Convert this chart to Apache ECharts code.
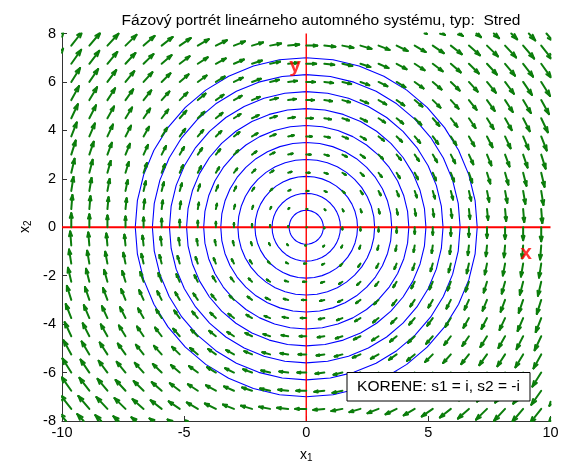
<!DOCTYPE html>
<html>
<head>
<meta charset="utf-8">
<script src="https://cdn.jsdelivr.net/npm/echarts@6/dist/echarts.min.js"></script>
<style>
  html, body { margin: 0; padding: 0; background: #fff; }
  #chart { width: 570px; height: 466px; }
</style>
</head>
<body>
<div id="chart"></div>
<script>
// Linear autonomous system  x' = A x  (center: eigenvalues s1 = i, s2 = -i)
const sysA = [[0, 1], [-1, 0]];

// Quiver grid (nodes outside the axes are clipped at the plot edge)
const gridX = [-10.36, -9.62, -8.88, -8.14, -7.40, -6.66, -5.92, -5.18, -4.44, -3.70,
               -2.96, -2.22, -1.48, -0.74, 0, 0.74, 1.48, 2.22, 2.96, 3.70, 4.44,
               5.18, 5.92, 6.66, 7.40, 8.14, 8.88, 9.62, 10.36];
const gridY = [-8.25, -7.5, -6.75, -6.0, -5.25, -4.5, -3.75, -3.0, -2.25, -1.5, -0.75,
               0, 0.75, 1.5, 2.25, 3.0, 3.75, 4.5, 5.25, 6.0, 6.75, 7.5, 8.25];

// Initial conditions of the plotted trajectories (on the x2 axis)
const startRadii = [0.7, 1.4, 2.1, 2.8, 3.5, 4.2, 4.9, 5.6, 6.3, 7.0];

// Axis ticks
const xTicks = [-10, -5, 0, 5, 10];
const yTicks = [-8, -6, -4, -2, 0, 2, 4, 6, 8];

const titleText = 'Fázový portrét lineárneho automného systému, typ:  Stred';
const rootsText = 'KORENE: s1 = i, s2 = -i';

const QUIVER_SCALE = 0.06;   // data units per unit of |x'|
const STEPS = 40;            // integration steps per revolution

// Vector field on the grid
const fieldData = [];
gridX.forEach(function (gx) {
  gridY.forEach(function (gy) {
    const u = sysA[0][0] * gx + sysA[0][1] * gy;
    const v = sysA[1][0] * gx + sysA[1][1] * gy;
    fieldData.push([gx, gy, u, v]);
  });
});

// Trajectories: exact solution x(t) = e^{At} x0 sampled at fixed steps
function trajectory(x0, y0) {
  const pts = [];
  for (let i = 0; i <= STEPS; i++) {
    const t = 2 * Math.PI * i / STEPS;
    const c = Math.cos(t), s = Math.sin(t);
    // e^{At} for A = [[0,1],[-1,0]] is a clockwise rotation
    pts.push([c * x0 + s * y0, -s * x0 + c * y0]);
  }
  return pts;
}

// Liang–Barsky clip of a pixel segment to the plot rectangle
function clipSeg(p, q, r) {
  let t0 = 0, t1 = 1;
  const dx = q[0] - p[0], dy = q[1] - p[1];
  const P = [-dx, dx, -dy, dy];
  const Q = [p[0] - r.x, r.x + r.width - p[0], p[1] - r.y, r.y + r.height - p[1]];
  for (let i = 0; i < 4; i++) {
    if (P[i] === 0) { if (Q[i] < 0) return null; }
    else {
      const t = Q[i] / P[i];
      if (P[i] < 0) { if (t > t1) return null; if (t > t0) t0 = t; }
      else { if (t < t0) return null; if (t < t1) t1 = t; }
    }
  }
  return [[p[0] + t0 * dx, p[1] + t0 * dy], [p[0] + t1 * dx, p[1] + t1 * dy]];
}

const GREEN = '#0b7d0b';

function renderArrow(params, api) {
  const x = api.value(0), y = api.value(1), u = api.value(2), v = api.value(3);
  const p0 = api.coord([x, y]);
  const p1 = api.coord([x + QUIVER_SCALE * u, y + QUIVER_SCALE * v]);
  const r = params.coordSys;
  const dx = p1[0] - p0[0], dy = p1[1] - p0[1];
  const L = Math.hypot(dx, dy);
  const segs = [];
  if (L < 1) {
    segs.push([p0, [p0[0] + 0.8, p0[1]]]);
  } else {
    segs.push([p0, p1]);
    const ux = dx / L, uy = dy / L;
    const hl = 0.33 * L, hw = 0.33 * 0.33 * L;
    const bx = p1[0] - ux * hl, by = p1[1] - uy * hl;
    segs.push([p1, [bx - uy * hw, by + ux * hw]]);
    segs.push([p1, [bx + uy * hw, by - ux * hw]]);
  }
  const children = [];
  segs.forEach(function (s) {
    const c = clipSeg(s[0], s[1], r);
    if (!c) return;
    children.push({
      type: 'line',
      shape: { x1: c[0][0], y1: c[0][1], x2: c[1][0], y2: c[1][1] },
      style: { stroke: GREEN, lineWidth: 2, lineCap: 'round' }
    });
  });
  return { type: 'group', children: children };
}

const series = [];
startRadii.forEach(function (r0) {
  series.push({
    type: 'line',
    data: trajectory(0, r0),
    showSymbol: false,
    silent: true,
    z: 2,
    lineStyle: { color: '#0000ff', width: 1.1 }
  });
});
series.push({
  type: 'line', data: [[-10, 0], [10, 0]], showSymbol: false, silent: true, z: 3,
  lineStyle: { color: '#ff0000', width: 2.2 }
});
series.push({
  type: 'line', data: [[0, -8], [0, 8]], showSymbol: false, silent: true, z: 3,
  lineStyle: { color: '#ff0000', width: 1.4 }
});
series.push({
  type: 'custom',
  renderItem: renderArrow,
  data: fieldData,
  silent: true,
  z: 4
});
// Red axis markers "x" and "y"
series.push({
  type: 'scatter',
  data: [
    { value: [9.0, -1.06], name: 'x' },
    { value: [-0.46, 6.64], name: 'y' }
  ],
  symbolSize: 0,
  silent: true,
  z: 5,
  label: {
    show: true,
    position: 'inside',
    formatter: '{b}',
    color: '#ff0000',
    fontFamily: 'Liberation Sans, Arial, sans-serif',
    fontWeight: 'bold',
    fontSize: 21
  }
});

const axisColor = '#333';
const font = 'Liberation Sans, Arial, sans-serif';

const chart = echarts.init(document.getElementById('chart'), null, { renderer: 'canvas' });
chart.setOption({
  animation: false,
  backgroundColor: '#ffffff',
  title: {
    text: titleText,
    left: 316,
    textAlign: 'center',
    top: 8,
    textStyle: { fontFamily: font, fontSize: 15.5, fontWeight: 'normal', color: '#000' }
  },
  grid: { left: 62, right: 19.5, top: 33.5, bottom: 45 },
  xAxis: {
    type: 'value',
    min: xTicks[0], max: xTicks[xTicks.length - 1], interval: xTicks[1] - xTicks[0],
    axisLine: { show: true, onZero: false, lineStyle: { color: axisColor, width: 1 } },
    axisTick: { show: true, inside: true, length: 5, lineStyle: { color: axisColor } },
    axisLabel: { color: '#000', fontFamily: font, fontSize: 14.5, margin: 4 },
    splitLine: { show: false }
  },
  yAxis: {
    type: 'value',
    min: yTicks[0], max: yTicks[yTicks.length - 1], interval: yTicks[1] - yTicks[0],
    axisLine: { show: true, onZero: false, lineStyle: { color: axisColor, width: 1 } },
    axisTick: { show: true, inside: true, length: 5, lineStyle: { color: axisColor } },
    axisLabel: { color: '#000', fontFamily: font, fontSize: 14.5, margin: 6 },
    splitLine: { show: false }
  },
  series: series,
  graphic: [
    {
      type: 'rect',
      z: 100,
      shape: { x: 347, y: 372.5, width: 183, height: 28.5 },
      style: { fill: '#fff', stroke: '#000', lineWidth: 1 }
    },
    {
      type: 'text',
      z: 101,
      x: 438.5, y: 387,
      style: {
        text: rootsText, fill: '#000', font: '15.5px ' + font,
        align: 'center', verticalAlign: 'middle'
      }
    },
    {
      type: 'text',
      z: 101,
      x: 300, y: 455,
      style: {
        text: '{a|x}{b|1}',
        rich: {
          a: { fontFamily: font, fontSize: 14, color: '#000' },
          b: { fontFamily: font, fontSize: 10, color: '#000', padding: [7, 0, 0, 0] }
        },
        verticalAlign: 'middle'
      }
    },
    {
      type: 'text',
      z: 101,
      x: 25, y: 233,
      rotation: Math.PI / 2,
      style: {
        text: '{a|x}{b|2}',
        rich: {
          a: { fontFamily: font, fontSize: 14, color: '#000' },
          b: { fontFamily: font, fontSize: 10, color: '#000', padding: [7, 0, 0, 0] }
        },
        verticalAlign: 'middle'
      }
    }
  ]
});
</script>
</body>
</html>
